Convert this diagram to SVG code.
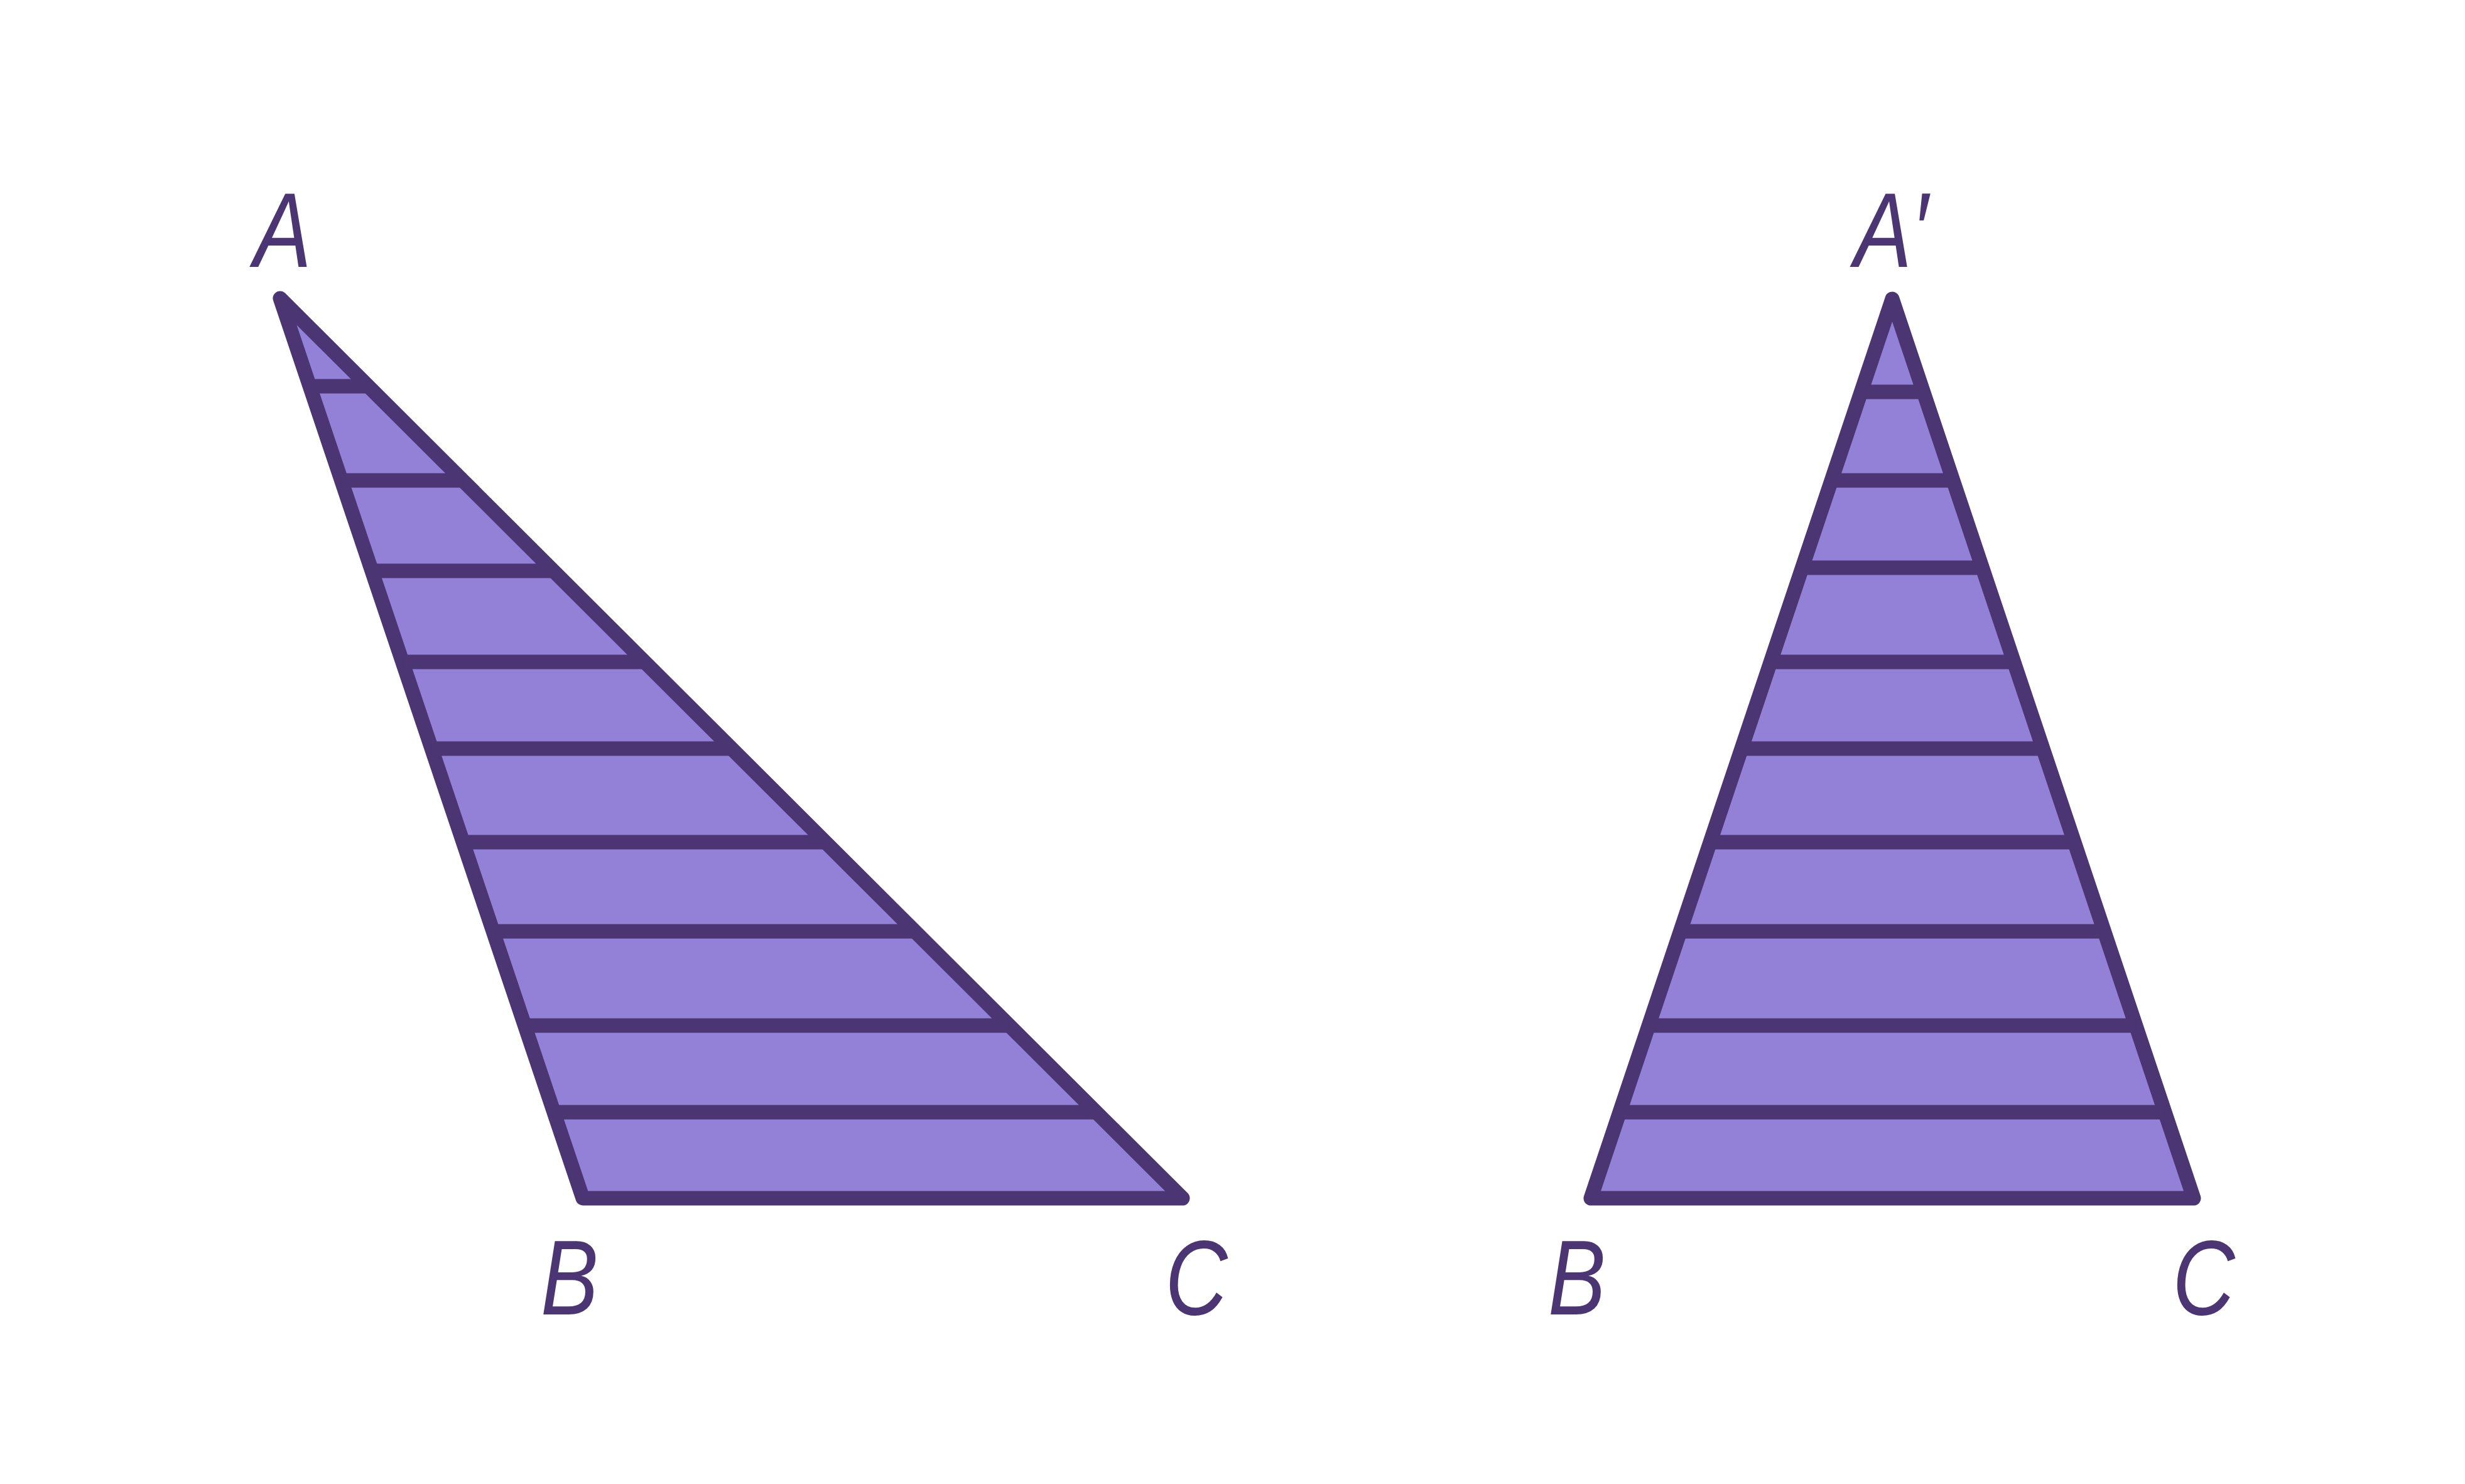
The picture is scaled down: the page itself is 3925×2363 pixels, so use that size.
<svg xmlns="http://www.w3.org/2000/svg" width="3925" height="2363" viewBox="0 0 3925 2363">
<style>
.tri{fill:#9381D7;stroke:#4B3572;stroke-width:23;stroke-linejoin:round}
.rung{stroke:#4B3572;stroke-width:23;stroke-linecap:butt}
.lbl{font-family:"Liberation Sans",Arial,sans-serif;font-style:italic;font-size:168px;fill:#4B3572;text-anchor:middle}
</style>
<rect width="3925" height="2363" fill="#FFFFFF"/>
<g id="triangle-left">
<polygon class="tri" points="446,475 928,1908 1883,1908"/>
<g id="rungs-left">
<line class="rung" x1="493" y1="615" x2="586" y2="615"/>
<line class="rung" x1="543.6" y1="765" x2="736.8" y2="765"/>
<line class="rung" x1="592" y1="909" x2="881.2" y2="909"/>
<line class="rung" x1="640.8" y1="1054" x2="1026.6" y2="1054"/>
<line class="rung" x1="687.2" y1="1192" x2="1165" y2="1192"/>
<line class="rung" x1="737.3" y1="1341" x2="1314.4" y2="1341"/>
<line class="rung" x1="785.1" y1="1483" x2="1456.8" y2="1483"/>
<line class="rung" x1="835.6" y1="1633" x2="1607.2" y2="1633"/>
<line class="rung" x1="882" y1="1771" x2="1745.6" y2="1771"/>
</g>
</g>
<g id="triangle-right">
<polygon class="tri" points="3013,476 2533,1908 3493,1908"/>
<g id="rungs-right">
<line class="rung" x1="2963.4" y1="624" x2="3062.6" y2="624"/>
<line class="rung" x1="2916.1" y1="765" x2="3109.9" y2="765"/>
<line class="rung" x1="2869.5" y1="904" x2="3156.5" y2="904"/>
<line class="rung" x1="2819.3" y1="1054" x2="3206.7" y2="1054"/>
<line class="rung" x1="2773" y1="1192" x2="3253" y2="1192"/>
<line class="rung" x1="2723" y1="1341" x2="3303" y2="1341"/>
<line class="rung" x1="2675.5" y1="1483" x2="3350.5" y2="1483"/>
<line class="rung" x1="2625.2" y1="1633" x2="3400.8" y2="1633"/>
<line class="rung" x1="2578.9" y1="1771" x2="3447.1" y2="1771"/>
</g>
</g>
<g id="labels">
<text id="label-A" class="lbl" transform="translate(450,425) scale(0.82,1)">A</text>
<text id="label-B" class="lbl" transform="translate(907,2093) scale(0.82,1)">B</text>
<text id="label-C" class="lbl" transform="translate(1905,2093) scale(0.82,1)">C</text>
<text id="label-A-prime" class="lbl" transform="translate(3011,425) scale(0.82,1)">A′</text>
<text id="label-B2" class="lbl" transform="translate(2511,2093) scale(0.82,1)">B</text>
<text id="label-C2" class="lbl" transform="translate(3509,2093) scale(0.82,1)">C</text>
</g>
</svg>
